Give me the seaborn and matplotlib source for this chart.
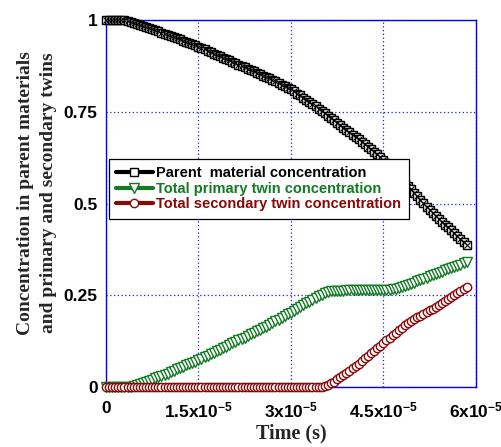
import numpy as np
import pandas as pd
import matplotlib
matplotlib.use("Agg")
import matplotlib.pyplot as plt
import seaborn as sns

# Sampling grid in microseconds (0 to 58.5 us, every 0.5 us)
time_us = np.arange(0, 58.5 + 0.25, 0.5)

parent = [
    1.000, 1.000, 1.000, 1.000, 1.000, 1.000, 1.000,
    0.998, 0.996, 0.993, 0.990, 0.987, 0.984, 0.981, 0.978, 0.975, 0.972, 0.969, 0.966, 0.963, 0.960,
    0.957, 0.954, 0.951, 0.948, 0.944, 0.941, 0.938, 0.934, 0.931, 0.927,
    0.923, 0.920, 0.916, 0.913, 0.909, 0.905, 0.902, 0.898, 0.894, 0.890, 0.887,
    0.883, 0.879, 0.875, 0.872, 0.868, 0.864, 0.860, 0.857, 0.853, 0.849, 0.845,
    0.841, 0.837, 0.833, 0.829, 0.824, 0.820, 0.815, 0.811,
    0.806, 0.800, 0.795, 0.789, 0.783, 0.777, 0.771, 0.765, 0.759, 0.752, 0.746, 0.740, 0.733,
    0.727, 0.720, 0.714, 0.707, 0.701, 0.694, 0.688, 0.681, 0.675, 0.668, 0.662, 0.655, 0.648,
    0.641, 0.634, 0.627, 0.620,
    0.611, 0.602, 0.593, 0.584, 0.575, 0.566, 0.557, 0.548, 0.539, 0.530, 0.521, 0.511, 0.502,
    0.492, 0.483,
    0.475, 0.467, 0.459, 0.451, 0.443, 0.435, 0.427, 0.419, 0.411, 0.403, 0.395, 0.387,
]

primary = [
    0.000, 0.000, 0.000, 0.000, 0.000, 0.000, 0.000, 0.000, 0.000,
    0.002, 0.005, 0.008, 0.011, 0.014, 0.017, 0.020, 0.024, 0.027, 0.030, 0.034, 0.037,
    0.041, 0.044, 0.048, 0.051, 0.055, 0.059, 0.062, 0.066, 0.069, 0.073,
    0.077, 0.081, 0.086, 0.090, 0.094, 0.098, 0.102, 0.106, 0.110, 0.115, 0.119,
    0.123, 0.127, 0.131, 0.135, 0.139, 0.144, 0.148, 0.152, 0.156, 0.160, 0.164,
    0.169, 0.174, 0.179, 0.184, 0.188, 0.193, 0.198, 0.203,
    0.208, 0.213, 0.218, 0.223, 0.228, 0.233, 0.238, 0.243, 0.248, 0.252, 0.256, 0.259, 0.261,
    0.262, 0.263, 0.263, 0.263, 0.264, 0.264, 0.264, 0.264, 0.264, 0.264, 0.265, 0.265, 0.265,
    0.265, 0.265, 0.265, 0.265,
    0.265, 0.265, 0.266, 0.267, 0.269, 0.272, 0.275, 0.279, 0.282, 0.285, 0.289, 0.292, 0.295,
    0.298, 0.302,
    0.305, 0.308, 0.311, 0.315, 0.318, 0.321, 0.325, 0.328, 0.331, 0.334, 0.338, 0.341,
]

secondary = [0.000] * 71 + [
    0.002, 0.005, 0.010,
    0.015, 0.021, 0.027, 0.033, 0.039, 0.045, 0.051, 0.058, 0.064, 0.071, 0.078, 0.085, 0.092,
    0.099, 0.106, 0.113, 0.120,
    0.127, 0.134, 0.141, 0.148, 0.155, 0.162, 0.169, 0.176, 0.181, 0.185, 0.190, 0.195, 0.199,
    0.204, 0.209,
    0.214, 0.219, 0.225, 0.230, 0.235, 0.241, 0.246, 0.251, 0.257, 0.262, 0.267, 0.273,
]

series_labels = [
    "Parent  material concentration",
    "Total primary twin concentration",
    "Total secondary twin concentration",
]
x_ticks = [0, 1.5e-5, 3e-5, 4.5e-5, 6e-5]
x_tick_labels = ["0", r"1.5x10$^{-5}$", r"3x10$^{-5}$", r"4.5x10$^{-5}$", r"6x10$^{-5}$"]
y_ticks = [0, 0.25, 0.5, 0.75, 1]
y_tick_labels = ["0", "0.25", "0.5", "0.75", "1"]

df = pd.DataFrame({
    "time": time_us * 1e-6,
    "parent": parent,
    "primary": primary,
    "secondary": secondary,
})

sns.set_theme(style="white")
plt.rcParams["font.family"] = ["Liberation Sans", "DejaVu Sans"]
plt.rcParams["font.weight"] = "bold"
plt.rcParams["mathtext.fontset"] = "custom"
plt.rcParams["mathtext.rm"] = "Liberation Sans:bold"
plt.rcParams["mathtext.it"] = "Liberation Sans:bold"
plt.rcParams["mathtext.bf"] = "Liberation Sans:bold"
plt.rcParams["mathtext.default"] = "rm"

fig, ax = plt.subplots(figsize=(5.02, 4.47), dpi=100)
fig.subplots_adjust(left=0.211, right=0.948, bottom=0.134, top=0.955)

black = "#000000"
green = "#147a24"
red = "#860a0a"

sns.lineplot(data=df, x="time", y="parent", ax=ax, color=black, lw=2.2,
             marker="s", markersize=5.5, markerfacecolor="white",
             markeredgecolor=black, markeredgewidth=1.0, clip_on=False,
             label=series_labels[0], zorder=3)
ax.plot(df["time"], df["parent"], ls="none", marker="x", markersize=4,
        color=black, markeredgewidth=0.8, clip_on=False, zorder=3.1)
sns.lineplot(data=df, x="time", y="primary", ax=ax, color=green, lw=2.2,
             marker="v", markersize=6.5, markerfacecolor="white",
             markeredgecolor=green, markeredgewidth=1.0, clip_on=False,
             label=series_labels[1], zorder=3)
sns.lineplot(data=df, x="time", y="secondary", ax=ax, color=red, lw=2.2,
             marker="o", markersize=6, markerfacecolor="white",
             markeredgecolor=red, markeredgewidth=1.0, clip_on=False,
             label=series_labels[2], zorder=3)

ax.set_xlim(0, 6e-5)
ax.set_ylim(0, 1)
ax.set_xticks(x_ticks)
ax.set_xticklabels(x_tick_labels)
ax.set_yticks(y_ticks)
ax.set_yticklabels(y_tick_labels)
ax.tick_params(axis="both", which="both", direction="in", length=4, width=0.8,
               color="blue", labelsize=12.5, labelcolor="black")
ax.tick_params(axis="x", pad=10)
ax.tick_params(axis="y", pad=6)
for lab in ax.get_xticklabels() + ax.get_yticklabels():
    lab.set_fontweight("bold")

for side in ["left", "right", "top", "bottom"]:
    ax.spines[side].set_visible(True)
    ax.spines[side].set_color("blue")
    ax.spines[side].set_linewidth(1.0)

ax.grid(True, color="blue", linestyle=(0, (1, 2)), linewidth=0.9, alpha=0.9)
ax.set_axisbelow(True)

serif = ["Liberation Serif", "DejaVu Serif"]
ax.set_xlabel("Time (s)", family=serif, fontsize=14.5, fontweight="bold", labelpad=2)
ax.set_ylabel("Concentration in parent materials\nand primary and secondary twins",
              family=serif, fontsize=14, fontweight="bold", labelpad=5,
              linespacing=1.45)
ax.yaxis.label.set_y(0.53)

leg = ax.legend(loc="upper left", bbox_to_anchor=(0.008, 0.621), fontsize=10.5,
                frameon=True, fancybox=False, framealpha=1, edgecolor="black",
                borderpad=0.5, labelspacing=0.1, handlelength=2.5,
                handletextpad=0.25, borderaxespad=0)
leg.get_frame().set_linewidth(0.9)
for text, col in zip(leg.get_texts(), [black, green, red]):
    text.set_color(col)
    text.set_fontweight("bold")
for line in leg.get_lines():
    line.set_linewidth(3)

fig.savefig("out.png", dpi=100)
